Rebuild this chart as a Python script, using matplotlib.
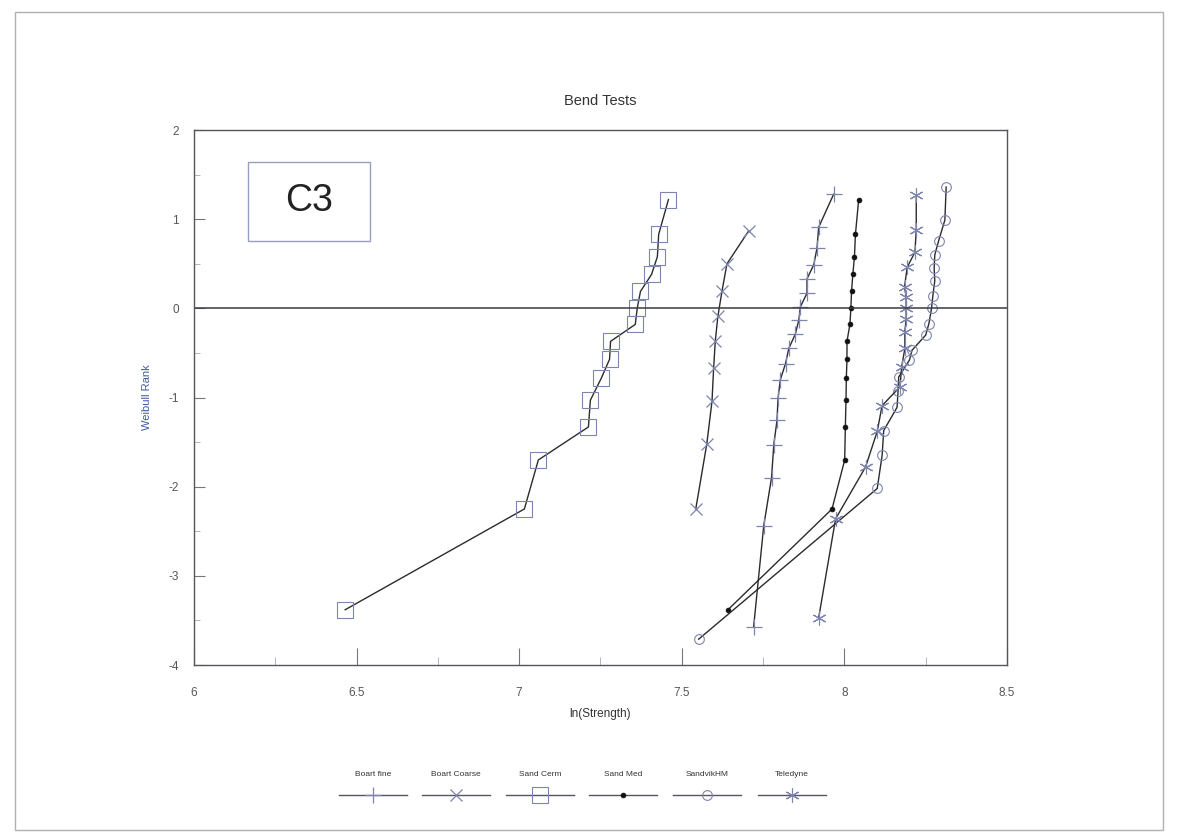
import matplotlib
matplotlib.use("Agg")
import matplotlib.pyplot as plt
from matplotlib.lines import Line2D
from matplotlib.patches import Rectangle

plt.rcParams['font.family'] = ['Liberation Sans', 'DejaVu Sans']
plt.rcParams['axes.unicode_minus'] = False

# ln(strength) and Weibull rank for each material
boart_fine_x = [7.721, 7.752, 7.776, 7.783, 7.793, 7.796, 7.803, 7.819, 7.829,
                7.849, 7.860, 7.865, 7.885, 7.885, 7.906, 7.916, 7.921, 7.967]
boart_fine_y = [-3.57, -2.44, -1.90, -1.53, -1.25, -1.01, -0.80, -0.62, -0.45,
                -0.29, -0.13, 0.02, 0.17, 0.33, 0.49, 0.68, 0.91, 1.28]

boart_coarse_x = [7.543, 7.577, 7.593, 7.598, 7.603, 7.611, 7.624, 7.639, 7.706]
boart_coarse_y = [-2.25, -1.52, -1.04, -0.67, -0.37, -0.09, 0.20, 0.50, 0.87]

sand_cerm_x = [6.465, 7.016, 7.059, 7.213, 7.219, 7.253, 7.278, 7.281, 7.357,
               7.363, 7.373, 7.407, 7.425, 7.429, 7.459]
sand_cerm_y = [-3.38, -2.25, -1.70, -1.33, -1.03, -0.78, -0.57, -0.37, -0.18,
               0.00, 0.19, 0.38, 0.58, 0.83, 1.22]

sand_med_x = [7.642, 7.962, 8.001, 8.003, 8.005, 8.006, 8.008, 8.008, 8.017,
              8.020, 8.022, 8.026, 8.031, 8.034, 8.044]
sand_med_y = [-3.38, -2.25, -1.70, -1.33, -1.03, -0.78, -0.57, -0.37, -0.18,
              0.00, 0.19, 0.38, 0.58, 0.83, 1.22]

sandvik_x = [7.552, 8.101, 8.116, 8.121, 8.162, 8.165, 8.167, 8.200, 8.208,
             8.250, 8.260, 8.268, 8.272, 8.278, 8.276, 8.278, 8.290, 8.309, 8.313]
sandvik_y = [-3.71, -2.02, -1.65, -1.37, -1.11, -0.93, -0.77, -0.58, -0.47,
             -0.30, -0.17, 0.00, 0.14, 0.31, 0.45, 0.60, 0.76, 0.99, 1.36]

teledyne_x = [7.921, 7.973, 8.065, 8.101, 8.116, 8.171, 8.176, 8.186, 8.186,
              8.190, 8.190, 8.190, 8.185, 8.193, 8.217, 8.221, 8.221]
teledyne_y = [-3.47, -2.36, -1.78, -1.38, -1.09, -0.88, -0.66, -0.45, -0.26,
              -0.12, 0.00, 0.13, 0.24, 0.46, 0.63, 0.88, 1.27]

labels = ['Boart fine', 'Boart Coarse', 'Sand Cerm', 'Sand Med', 'SandvikHM', 'Teledyne']

line_col = '#2b2b2e'
mark_col = '#7d84ad'

styles = [
    dict(marker='+', ms=11, mec=mark_col, mew=0.9),
    dict(marker='x', ms=9, mec=mark_col, mew=0.9),
    dict(marker='s', ms=11, mec=mark_col, mfc='none', mew=0.8),
    dict(marker='o', ms=3.5, mec='#111111', mfc='#111111', mew=0.5),
    dict(marker='o', ms=7, mec=mark_col, mfc='none', mew=0.8),
    dict(marker=(6, 2, 0), ms=10, mec=mark_col, mew=0.8),
]

series = [(boart_fine_x, boart_fine_y), (boart_coarse_x, boart_coarse_y),
          (sand_cerm_x, sand_cerm_y), (sand_med_x, sand_med_y),
          (sandvik_x, sandvik_y), (teledyne_x, teledyne_y)]

fig = plt.figure(figsize=(11.79, 8.40), dpi=100)
ax = fig.add_axes([0.1645, 0.2083, 0.6896, 0.6369])

for (xs, ys), st in zip(series, styles):
    ax.plot(xs, ys, color=line_col, lw=1.0, **st)

ax.axhline(0, color='#3a3a40', lw=1.1)

ax.set_xlim(6, 8.5)
ax.set_ylim(-4, 2)
ax.set_xticks([6, 6.5, 7, 7.5, 8, 8.5])
ax.set_xticklabels(['6', '6.5', '7', '7.5', '8', '8.5'])
ax.set_xticks([6.25, 6.75, 7.25, 7.75, 8.25], minor=True)
ax.set_yticks([-4, -3, -2, -1, 0, 1, 2])
ax.set_yticks([-3.5, -2.5, -1.5, -0.5, 0.5, 1.5], minor=True)
ax.tick_params(which='major', direction='in', width=0.8, color='#777777',
               labelsize=8.5, labelcolor='#555555')
ax.tick_params(axis='x', which='major', length=12, pad=16)
ax.tick_params(axis='y', which='major', length=8, pad=11)
ax.tick_params(axis='x', which='minor', direction='in', length=6, width=0.6, color='#aaaaaa')
ax.tick_params(axis='y', which='minor', direction='in', length=4, width=0.6, color='#aaaaaa')
for sp in ax.spines.values():
    sp.set_color('#55555c')
    sp.set_linewidth(1.0)

ax.set_title('Bend Tests', fontsize=10.5, color='#333333', pad=18)
ax.set_xlabel('ln(Strength)', fontsize=8.5, color='#333333', labelpad=6)
ax.set_ylabel('Weibull Rank', fontsize=8, color='#3d5a9c', labelpad=12)

# panel tag
ax.add_patch(Rectangle((6.166, 0.75), 0.376, 0.89, fill=False,
                       ec='#9a9cc0', lw=1.0))
ax.text(6.354, 1.2, 'C3', fontsize=27, color='#222222', ha='center', va='center')

# legend row below the axes: label on top, line sample with marker below
centers = [373, 456, 540, 623, 707, 792]
W, H = 1179.0, 840.0
for cx, lab, st in zip(centers, labels, styles):
    fig.text(cx / W, 1 - 775 / H, lab, fontsize=6, color='#333333',
             ha='center', va='center')
    fig.add_artist(Line2D([(cx - 34) / W, (cx + 34) / W], [1 - 795 / H] * 2,
                          transform=fig.transFigure, color='#55555c', lw=1.0))
    fig.add_artist(Line2D([cx / W], [1 - 795 / H], transform=fig.transFigure,
                          linestyle='none', **st))

# page border
fig.add_artist(Rectangle((15 / W, 1 - 830 / H), 1148 / W, 818 / H,
                         transform=fig.transFigure, fill=False,
                         ec='#b0b0b0', lw=1.0))

fig.savefig('out.png', dpi=100)
